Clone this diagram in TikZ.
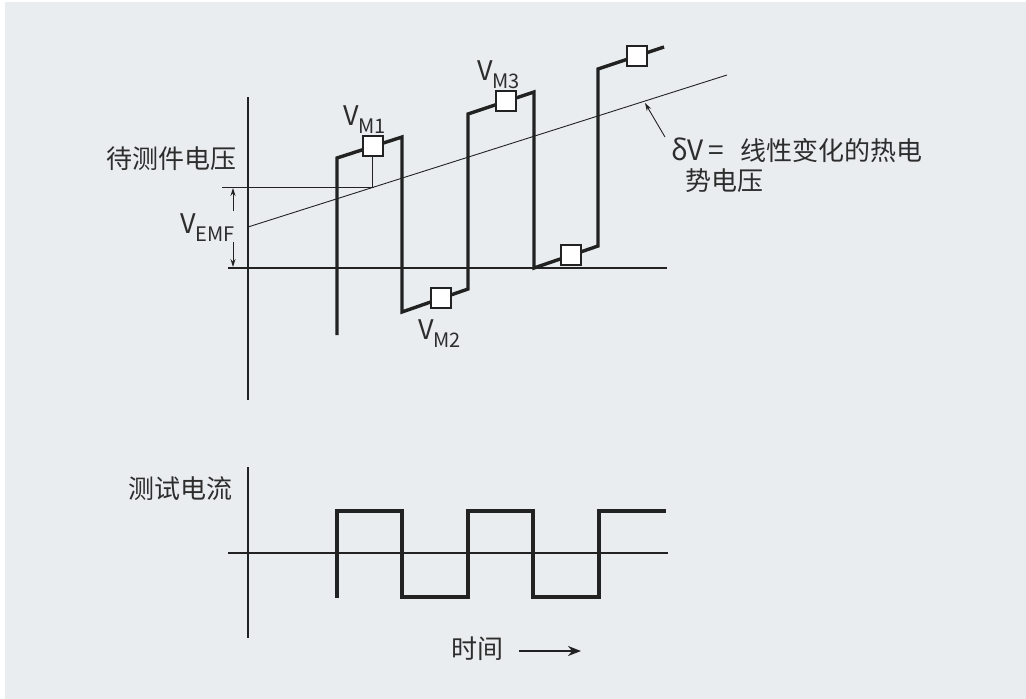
\documentclass[tikz,border=0pt]{standalone}
\usepackage{fontspec}
\setmainfont{Noto Sans CJK SC}
\usetikzlibrary{arrows.meta}
\definecolor{bg}{RGB}{233,237,239}
\definecolor{ink}{RGB}{34,34,34}
\definecolor{txt}{RGB}{45,45,45}
\newcommand{\cjksize}{\fontsize{26}{28}\selectfont}
\newcommand{\vlab}[1]{\fontsize{27}{28}\selectfont V\raisebox{-8pt}{\fontsize{20}{20}\selectfont #1}}
\tikzset{
  axis/.style={line width=2.6pt, draw=ink},
  wave/.style={line width=3.4pt, draw=ink, line join=miter, line cap=butt},
  thin/.style={line width=0.9pt, draw=ink},
  mbox/.style={draw=ink, fill=white, line width=2pt, minimum size=20pt, inner sep=0pt},
  lab/.style={text=txt, inner sep=0pt, anchor=base west},
  tip/.style={-{Stealth[length=8pt,width=5pt]}},
}
\begin{document}
\begin{tikzpicture}[x=1pt, y=-1pt]
\useasboundingbox (0,0) rectangle (1026,699);
\fill[white] (0,0) rectangle (1026,699);
\fill[bg] (5,2) rectangle (1026,699);

% ---------- upper panel ----------
\coordinate (ua1) at (248,97);
\coordinate (ua2) at (248,400);
\coordinate (uh1) at (228,268);
\coordinate (uh2) at (667,268);
\draw[axis] (ua1) -- (ua2);
\draw[axis] (uh1) -- (uh2);

% thermal EMF line
\coordinate (t1) at (248,227);
\coordinate (t2) at (727,75);
\draw[thin] (t1) -- (t2);

% V_EMF reference line
\coordinate (r1) at (222,187);
\coordinate (r2) at (374,187);
\draw[thin] (r1) -- (r2);

% waveform
\coordinate (w0) at (337,335);
\coordinate (w1) at (337,158);
\coordinate (w2) at (402,137);
\coordinate (w3) at (402,312);
\coordinate (w4) at (468,289);
\coordinate (w5) at (468,114);
\coordinate (w6) at (534,92);
\coordinate (w7) at (534,268);
\coordinate (w8) at (598,246);
\coordinate (w9) at (598,69);
\coordinate (w10) at (664,47);
\draw[wave] (w0) -- (w1) -- (w2) -- (w3) -- (w4) -- (w5) -- (w6) -- (w7) -- (w8) -- (w9) -- (w10);

\path (w1) -- (w2) node[pos=0.55, mbox] (m1) {};
\path (w3) -- (w4) node[pos=0.59, mbox] (m2) {};
\path (w5) -- (w6) node[pos=0.58, mbox] (m3) {};
\path (w7) -- (w8) node[pos=0.58, mbox] (m4) {};
\path (w9) -- (w10) node[pos=0.59, mbox] (m5) {};

% leader from V_M1 box
\draw[thin] (m1.south) -- (m1.south |- r2);

% labels
\node[lab] (lm1) at (343,125) {\vlab{M1}};
\node[lab] (lm2) at (418,339) {\vlab{M2}};
\node[lab] (lm3) at (477,80) {\vlab{M3}};
\node[lab] (lemf) at (180,233) {\vlab{EMF}};
\node[lab] (ldut) at (106,168) {\cjksize 待测件电压};

% V_EMF double arrow
\coordinate (e1) at (233,211);
\coordinate (e2) at (233,188);
\coordinate (e3) at (233,242);
\coordinate (e4) at (233,267);
\draw[thin, tip] (e1) -- (e2);
\draw[thin, tip] (e3) -- (e4);

% delta V annotation
\coordinate (d1) at (665,137);
\coordinate (d2) at (645,103);
\draw[thin, tip] (d1) -- (d2);
\node[lab] (ldv) at (671,160) {\fontsize{28}{28}\selectfont δV\hspace{0.15em}=\hspace{0.6em}\cjksize 线性变化的热电};
\node[lab] (ldv2) at (685,190) {\cjksize 势电压};

% ---------- lower panel ----------
\coordinate (la1) at (248,467);
\coordinate (la2) at (248,638);
\coordinate (lh1) at (228,553);
\coordinate (lh2) at (668,553);
\draw[axis] (la1) -- (la2);
\draw[axis] (lh1) -- (lh2);

\coordinate (s0) at (337,598);
\coordinate (s1) at (337,511);
\coordinate (s2) at (402,511);
\coordinate (s3) at (402,597);
\coordinate (s4) at (468,597);
\coordinate (s5) at (468,511);
\coordinate (s6) at (533,511);
\coordinate (s7) at (533,597);
\coordinate (s8) at (599,597);
\coordinate (s9) at (599,511);
\coordinate (s10) at (666,511);
\draw[wave] (s0) -- (s1) -- (s2) -- (s3) -- (s4) -- (s5) -- (s6) -- (s7) -- (s8) -- (s9) -- (s10);

\node[lab] (lcur) at (128,498) {\cjksize 测试电流};
\node[lab] (ltime) at (451,658) {\cjksize 时间};
\coordinate (ta1) at (519,651);
\coordinate (ta2) at (581,651);
\draw[line width=2.2pt, draw=ink, -{Stealth[length=13pt,width=10pt]}] (ta1) -- (ta2);
\end{tikzpicture}
\end{document}
